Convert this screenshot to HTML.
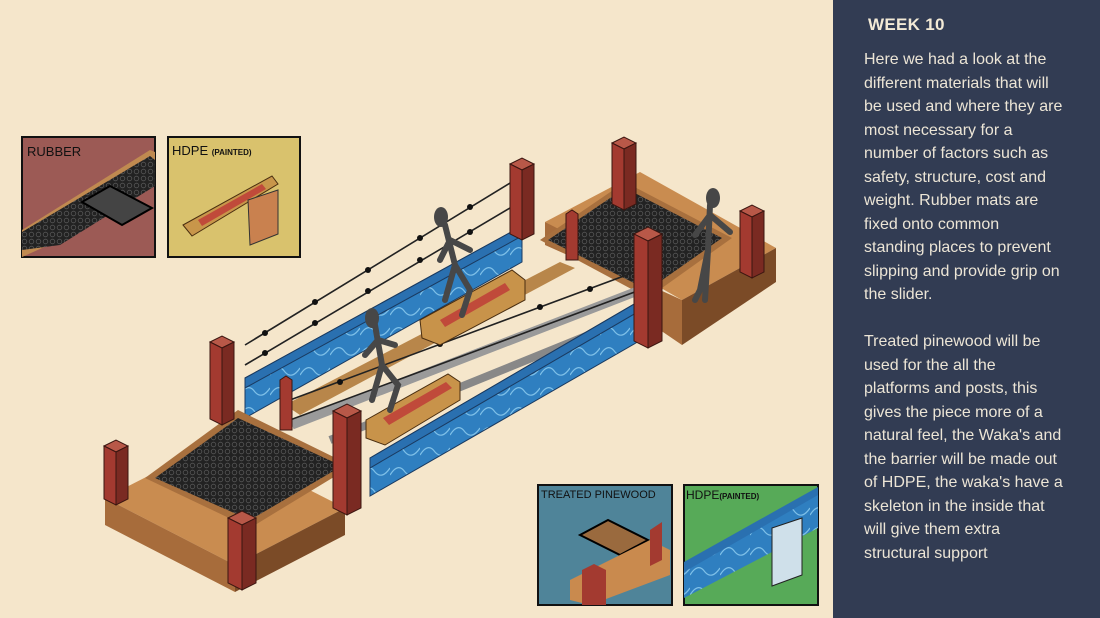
<!DOCTYPE html>
<html><head><meta charset="utf-8"><style>
html,body{margin:0;padding:0}
body{width:1100px;height:618px;overflow:hidden;background:#f5e6cb;position:relative;font-family:"Liberation Sans",sans-serif}
#panel{position:absolute;left:833px;top:0;width:267px;height:618px;background:#323c53;color:#ece5d6}
#panel h1{position:absolute;left:35px;top:15px;margin:0;font-size:17px;font-weight:900;letter-spacing:0.3px;color:#f3ead6}
#panel p{position:absolute;left:31px;top:48px;margin:0;width:230px;font-size:16px;line-height:23.5px;white-space:nowrap}
.lbl{font-family:"Liberation Sans",sans-serif}
</style></head><body>
<svg width="833" height="618" style="position:absolute;left:0;top:0">
<defs>
<pattern id="mat" width="7" height="7" patternUnits="userSpaceOnUse"><rect width="7" height="7" fill="#222"/><circle cx="3.5" cy="3.5" r="2.3" fill="none" stroke="#555" stroke-width="0.8"/></pattern>
<pattern id="wave" width="30" height="20" patternUnits="userSpaceOnUse"><rect width="30" height="20" fill="#2f7fc0"/><path d="M0 15 Q8 2 15 12 Q22 20 30 8" fill="none" stroke="#7ec0e8" stroke-width="1.2"/></pattern>
</defs>
<rect x="22" y="137" width="133" height="120" fill="#9c5a55" stroke="#111" stroke-width="2"/>
<polygon points="22,230 150,150 155,152 155,180 60,240 22,257" fill="#c08a50"/>
<polygon points="22,232 150,156 155,160 155,186 60,245 22,250" fill="url(#mat)"/>
<polygon points="82,202 110,186 152,208 122,225" fill="#444" stroke="#000" stroke-width="2"/>
<text x="27" y="156" font-size="13" fill="#111" class="lbl">RUBBER</text>
<rect x="168" y="137" width="132" height="120" fill="#d9c26d" stroke="#111" stroke-width="2"/>
<polygon points="183,225 272,176 278,184 192,236" fill="#c8964a" stroke="#4a2e10"/>
<polygon points="198,220 262,184 266,189 202,226" fill="#c04a3a"/>
<polygon points="248,200 278,190 278,234 250,245" fill="#c9814f" stroke="#333"/>
<text x="172" y="155" font-size="13" fill="#111" class="lbl">HDPE <tspan font-size="8" font-weight="bold">(PAINTED)</tspan></text>
<rect x="538" y="485" width="134" height="120" fill="#4f8499" stroke="#111" stroke-width="2"/>
<polygon points="580,535 608,520 648,540 620,555" fill="#9a6a3e" stroke="#000" stroke-width="2"/>
<polygon points="570,580 650,540 670,550 670,575 590,605 570,600" fill="#c98a4e"/>
<polygon points="650,530 662,522 662,560 650,566" fill="#a33a30"/>
<polygon points="582,570 594,564 606,570 606,605 582,605" fill="#a33a30"/>
<text x="541" y="498" font-size="11" fill="#111" class="lbl">TREATED PINEWOOD</text>
<rect x="684" y="485" width="134" height="120" fill="#57aa58" stroke="#111" stroke-width="2"/>
<polygon points="684,570 818,492 818,528 684,598" fill="url(#wave)"/>
<polygon points="684,562 818,487 818,495 684,572" fill="#2a70b0"/>
<polygon points="772,528 802,518 802,575 772,586" fill="#cfe0ea" stroke="#222"/>
<text x="686" y="499" font-size="12" fill="#111" class="lbl">HDPE<tspan font-size="8" font-weight="bold">(PAINTED)</tspan></text>

<polygon points="545,222 640,172 776,248 682,300" fill="#c98c50"/>
<polygon points="682,300 776,248 776,282 682,345" fill="#7b4b27"/>
<polygon points="660,290 682,300 682,345 660,330" fill="#a76c3b"/>
<polygon points="545,222 590,245 590,265 545,245" fill="#a76c3b"/>
<polygon points="540,240 625,182 732,238 648,298" fill="#a8703e"/>
<polygon points="548,240 625,188 722,238 648,290" fill="url(#mat)"/>
<line x1="292" y1="425" x2="635" y2="292" stroke="#9a9a9a" stroke-width="9"/>
<line x1="330" y1="440" x2="645" y2="312" stroke="#888" stroke-width="8"/>
<polygon points="285,405 560,262 575,268 300,415" fill="#b8864a"/>
<polygon points="245,378 522,226 522,262 245,418" fill="url(#wave)" stroke="#1a3a60"/>
<polygon points="245,378 522,226 522,236 245,388" fill="#2a70b0" stroke="#1a3a60"/>
<g stroke="#222" stroke-width="1.6">
<line x1="245" y1="345" x2="515" y2="180"/><line x1="245" y1="365" x2="515" y2="205"/>
<line x1="290" y1="400" x2="640" y2="270"/><line x1="290" y1="420" x2="640" y2="290"/>
</g>
<g fill="#111"><circle cx="265" cy="333" r="3"/><circle cx="315" cy="302" r="3"/><circle cx="368" cy="270" r="3"/><circle cx="420" cy="238" r="3"/><circle cx="470" cy="207" r="3"/>
<circle cx="265" cy="353" r="3"/><circle cx="315" cy="323" r="3"/><circle cx="368" cy="291" r="3"/><circle cx="420" cy="260" r="3"/><circle cx="470" cy="232" r="3"/>
<circle cx="340" cy="382" r="3"/><circle cx="440" cy="344" r="3"/><circle cx="540" cy="307" r="3"/><circle cx="590" cy="289" r="3"/></g>
<polygon points="420,320 512,270 525,280 525,300 440,345 422,338" fill="#c8934a" stroke="#4a2e10"/>
<polygon points="440,320 505,283 510,290 445,327" fill="#c04a3a"/>
<polygon points="366,420 448,374 460,382 460,400 385,445 366,438" fill="#c8934a" stroke="#4a2e10"/>
<polygon points="383,418 446,382 452,388 389,425" fill="#c04a3a"/>
<g stroke="#474747" stroke-width="6" stroke-linecap="round" fill="none">
<path d="M445 225 L455 265 L445 300 M455 265 L470 290 L462 315 M450 240 L440 260 M450 240 L470 250"/>
<path d="M375 325 L382 365 L372 400 M382 365 L398 385 L390 410 M378 340 L365 355 M378 340 L395 345"/>
<path d="M710 205 L708 250 L705 300 M708 250 L700 290 L695 300 M710 215 L695 235 M710 215 L730 232"/>
</g>
<g fill="#474747"><ellipse cx="441" cy="217" rx="7" ry="10"/><ellipse cx="372" cy="318" rx="7" ry="10"/><ellipse cx="713" cy="198" rx="7" ry="10"/></g>
<polygon points="370,458 648,296 648,336 370,496" fill="url(#wave)" stroke="#1a3a60"/>
<polygon points="370,458 648,296 648,306 370,468" fill="#2a70b0" stroke="#1a3a60"/>
<polygon points="105,498 215,442 345,508 235,565" fill="#c98c50"/>
<polygon points="105,498 235,565 235,592 105,525" fill="#a76c3b"/>
<polygon points="235,565 345,508 345,535 235,592" fill="#7b4b27"/>
<polygon points="145,478 238,410 352,466 250,528" fill="#a8703e"/>
<polygon points="155,478 238,418 342,466 250,520" fill="url(#mat)"/>
<g stroke="#3a1510" stroke-width="1">
<polygon points="210,342 222,336 234,342 222,348" fill="#b85848"/><polygon points="210,342 222,348 222,425 210,419" fill="#a33a30"/><polygon points="222,348 234,342 234,419 222,425" fill="#7a2a22"/>
<polygon points="510,164 522,158 534,164 522,170" fill="#b85848"/><polygon points="510,164 522,170 522,240 510,234" fill="#a33a30"/><polygon points="522,170 534,164 534,234 522,240" fill="#7a2a22"/>
<polygon points="612,143 624,137 636,143 624,149" fill="#b85848"/><polygon points="612,143 624,149 624,210 612,204" fill="#a33a30"/><polygon points="624,149 636,143 636,204 624,210" fill="#7a2a22"/>
<polygon points="740,211 752,205 764,211 752,217" fill="#b85848"/><polygon points="740,211 752,217 752,278 740,272" fill="#a33a30"/><polygon points="752,217 764,211 764,272 752,278" fill="#7a2a22"/>
<polygon points="280,380 286,376 292,380 292,430 280,430" fill="#a33a30"/>
<polygon points="566,214 572,210 578,214 578,260 566,260" fill="#a33a30"/>
<polygon points="634,234 648,227 662,234 648,241" fill="#b85848"/><polygon points="634,234 648,241 648,348 634,341" fill="#a33a30"/><polygon points="648,241 662,234 662,341 648,348" fill="#7a2a22"/>
<polygon points="104,446 116,440 128,446 116,452" fill="#b85848"/><polygon points="104,446 116,452 116,505 104,499" fill="#a33a30"/><polygon points="116,452 128,446 128,499 116,505" fill="#7a2a22"/>
<polygon points="333,411 347,404 361,411 347,418" fill="#b85848"/><polygon points="333,411 347,418 347,515 333,508" fill="#a33a30"/><polygon points="347,418 361,411 361,508 347,515" fill="#7a2a22"/>
<polygon points="228,518 242,511 256,518 242,525" fill="#b85848"/><polygon points="228,518 242,525 242,590 228,583" fill="#a33a30"/><polygon points="242,525 256,518 256,583 242,590" fill="#7a2a22"/>
</g>
</svg>
<div id="panel"><h1>WEEK 10</h1>
<p>Here we had a look at the<br>different materials that will<br>be used and where they are<br>most necessary for a<br>number of factors such as<br>safety, structure, cost and<br>weight. Rubber mats are<br>fixed onto common<br>standing places to prevent<br>slipping and provide grip on<br>the slider.<br><br>Treated pinewood will be<br>used for the all the<br>platforms and posts, this<br>gives the piece more of a<br>natural feel, the Waka's and<br>the barrier will be made out<br>of HDPE, the waka's have a<br>skeleton in the inside that<br>will give them extra<br>structural support</p></div>
</body></html>
